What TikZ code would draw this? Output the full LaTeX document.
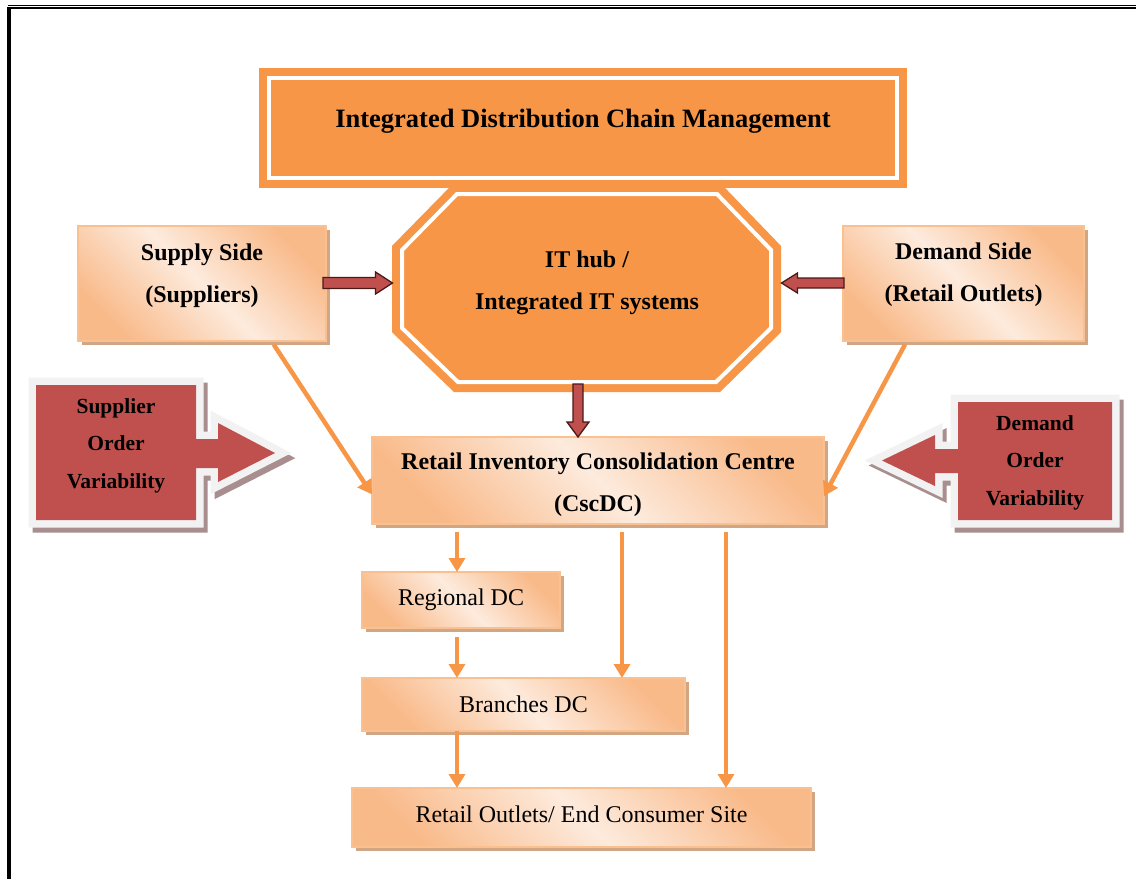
\documentclass[tikz,border=0pt]{standalone}
\usepackage{fontspec}
\setmainfont{Liberation Serif}
\usetikzlibrary{arrows.meta,calc,shadows}

\definecolor{accent}{HTML}{F79646}
\definecolor{boxedge}{HTML}{FAC090}
\definecolor{boxdark}{HTML}{F9BA8A}
\definecolor{boxlight}{HTML}{FDEBDD}
\definecolor{boxshade}{HTML}{D0A684}
\definecolor{alert}{HTML}{C0504D}
\definecolor{alertedge}{HTML}{4A1A19}
\definecolor{vrim}{HTML}{F2F2F2}
\definecolor{vshade}{HTML}{A88E8E}

\begin{document}
\begin{tikzpicture}[x=1pt,y=-1pt,
  every node/.style={inner sep=0pt, outer sep=0pt},
  softbox/.style={draw=boxedge, line width=1.8pt, top color=boxdark,
    bottom color=boxdark, middle color=boxlight, shading angle=-45,
    drop shadow={shadow xshift=4pt, shadow yshift=-4pt, opacity=1, fill=boxshade},
    anchor=north west},
  framed/.style={fill=accent, draw=accent, line width=8pt, double=white,
    double distance=4pt},
  boldtext/.style={font=\fontsize{24}{42}\selectfont\bfseries},
  plaintext/.style={font=\fontsize{24}{28}\selectfont},
  calltext/.style={font=\fontsize{21.5}{37.5}\selectfont\bfseries, anchor=base},
  flow/.style={draw=accent, line width=4.5pt, -{Triangle[width=16pt,length=14pt]}},
  blockarrow/.style={fill=alert, draw=alertedge, line width=1.3pt, line join=miter},
  calloutL/.style={insert path={(36,385) -- (196,385) -- (196,439) -- (218,439)
    -- (218,423) -- (275,453) -- (218,482) -- (218,468) -- (196,468)
    -- (196,520) -- (36,520) -- cycle}},
  calloutR/.style={insert path={(1112,402) -- (958,402) -- (958,449) -- (935,449)
    -- (935,435) -- (882,460.5) -- (935,486) -- (935,473) -- (958,473)
    -- (958,520) -- (1112,520) -- cycle}},
  calloutshadow/.style={fill=vshade, draw=vshade, line width=15pt, shift={(4,5)}},
  calloutrim/.style={fill=vrim, draw=vrim, line width=15pt},
  calloutbody/.style={fill=alert}
]
\useasboundingbox (0,0) rectangle (1136,879);

% page border
\draw[line width=1.8pt] (8,5.5) -- (1136,5.5);
\draw[line width=1.8pt] (8,8.2) -- (1136,8.2);
\draw[line width=3.6pt] (9.1,7.3) -- (9.1,879);

% IT hub octagon
\filldraw[framed] (457,194) -- (717,194) -- (771,250) -- (771,328) -- (716,382)
  -- (458,382) -- (402,328) -- (402,250) -- cycle;

% title banner
\node[framed, minimum width=628pt, minimum height=100pt, text height=30pt,
  text depth=31pt, font=\fontsize{26.5}{30}\selectfont\bfseries]
  (title) at (583,127.5) {Integrated Distribution Chain Management};

\node[boldtext, text height=20pt, text depth=52pt, minimum width=389pt,
  minimum height=208pt] (hub) at (587,283)
  {\begin{tabular}[t]{@{}c@{}}IT hub /\\Integrated IT systems\end{tabular}};

% supply and demand sides
\node[softbox, boldtext, minimum width=248pt, minimum height=115pt,
  text height=10pt, text depth=57pt] (sup) at (78,226)
  {\begin{tabular}[t]{@{}c@{}}Supply Side\\(Suppliers)\end{tabular}};
\node[softbox, boldtext, minimum width=241pt, minimum height=115pt,
  text height=10pt, text depth=59pt] (dem) at (843,226)
  {\begin{tabular}[t]{@{}c@{}}Demand Side\\(Retail Outlets)\end{tabular}};

% consolidation centre and downstream sites
\node[softbox, boldtext, minimum width=452pt, minimum height=87pt,
  text height=20pt, text depth=43pt] (ric) at (372,437)
  {\begin{tabular}[t]{@{}c@{}}Retail Inventory Consolidation Centre\\(CscDC)\end{tabular}};
\node[softbox, plaintext, minimum width=198pt, minimum height=56pt,
  text height=20pt, text depth=10pt] (reg) at (362,572) {Regional DC};
\node[softbox, plaintext, minimum width=323pt, minimum height=53pt,
  text height=22pt, text depth=7pt] (bra) at (362,678) {Branches DC};
\node[softbox, plaintext, minimum width=459pt, minimum height=59pt,
  text height=20pt, text depth=11pt] (ret) at (352,788) {Retail Outlets/ End Consumer Site};

% variability callouts
\path[calloutshadow, calloutL];
\path[calloutrim, calloutL];
\path[calloutbody, calloutL];
\path[calloutshadow, calloutR];
\path[calloutrim, calloutR];
\path[calloutbody, calloutR];
\node[calltext] (supvar) at (116,413)
  {\begin{tabular}[t]{@{}c@{}}Supplier\\Order\\Variability\end{tabular}};
\node[calltext] (demvar) at (1035,430)
  {\begin{tabular}[t]{@{}c@{}}Demand\\Order\\Variability\end{tabular}};

% block arrows into and out of the IT hub
\filldraw[blockarrow] ($(sup.east |- hub.west)+(-3,-5.5)$) -- ($(hub.west)+(-17,-5.5)$)
  -- ($(hub.west)+(-17,-11)$) -- (hub.west) -- ($(hub.west)+(-17,11)$)
  -- ($(hub.west)+(-17,5.5)$) -- ($(sup.east |- hub.west)+(-3,5.5)$) -- cycle;
\filldraw[blockarrow] ($(dem.west |- hub.east)+(1,-5)$) -- ($(hub.east)+(16,-5)$)
  -- ($(hub.east)+(16,-10)$) -- (hub.east) -- ($(hub.east)+(16,10)$)
  -- ($(hub.east)+(16,5)$) -- ($(dem.west |- hub.east)+(1,5)$) -- cycle;
\coordinate (drop) at (578,0);
\filldraw[blockarrow] ($(hub.south -| drop)+(-5,-3)$) -- ($(ric.north -| drop)+(-5,-15)$)
  -- ($(ric.north -| drop)+(-11,-15)$) -- (ric.north -| drop)
  -- ($(ric.north -| drop)+(11,-15)$) -- ($(ric.north -| drop)+(5,-15)$)
  -- ($(hub.south -| drop)+(5,-3)$) -- cycle;

% flows into the consolidation centre
\draw[flow, shorten <=4pt] ($(sup.south west)!0.78!(sup.south east)$)
  -- ($(ric.north west)!0.66!(ric.south west)$);
\draw[flow, shorten <=4pt] ($(dem.south west)!0.265!(dem.south east)$)
  -- ($(ric.north east)!0.68!(ric.south east)$);

% downstream flows
\coordinate (c1) at (457,0);
\coordinate (c2) at (622,0);
\coordinate (c3) at (726,0);
\draw[flow, shorten <=8pt] (ric.south -| c1) -- (reg.north -| c1);
\draw[flow, shorten <=8pt] (ric.south -| c2) -- (bra.north -| c2);
\draw[flow, shorten <=8pt] (ric.south -| c3) -- (ret.north -| c3);
\draw[flow, shorten <=9pt] (reg.south -| c1) -- (bra.north -| c1);
\draw[flow] (bra.south -| c1) -- (ret.north -| c1);
\end{tikzpicture}
\end{document}
